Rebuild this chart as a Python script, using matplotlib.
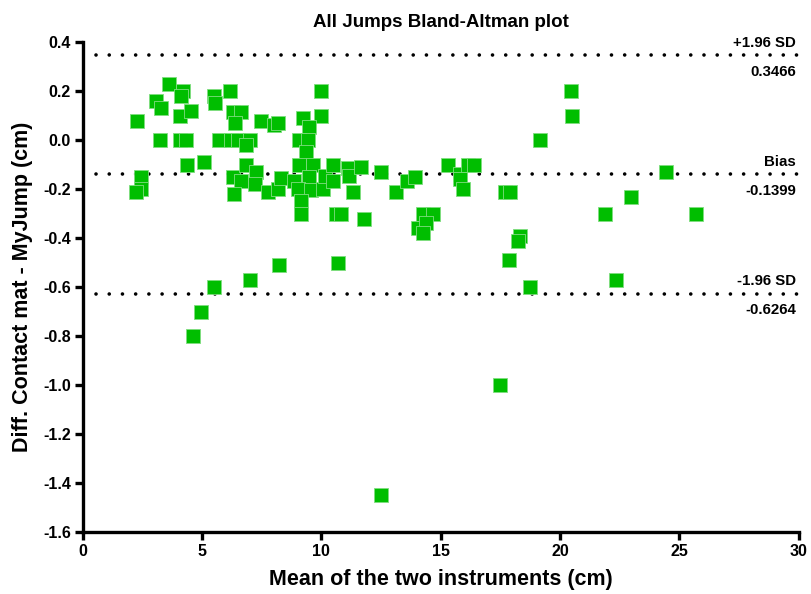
import matplotlib
matplotlib.use("Agg")
import matplotlib.pyplot as plt
from matplotlib.ticker import FuncFormatter, MultipleLocator

plt.rcParams['font.family'] = ['Liberation Sans', 'DejaVu Sans']

# Mean of the two instruments (cm)
mean_vals = [
    3.61, 4.20, 4.13, 3.05, 3.26, 2.29, 4.06, 4.55, 5.52, 5.56,
    6.16, 6.29, 6.64, 6.40, 7.48, 8.00, 8.20, 9.22, 9.99, 9.50, 9.97,
    3.22, 4.06, 4.34, 5.73, 6.22, 6.50, 6.99, 9.08, 9.43, 6.85, 9.36,
    4.38, 5.08, 2.43, 2.43, 2.25,
    6.29, 6.64, 6.85, 7.27, 7.20, 6.32, 7.75, 8.17, 8.31, 8.87,
    9.08, 9.64, 9.50, 9.00, 9.57, 10.06, 10.13, 10.47, 10.47,
    11.10, 11.17, 11.34, 9.15, 9.15, 10.60, 10.80,
    11.66, 12.50, 13.13, 13.60, 13.90, 15.30, 15.80, 15.80, 16.12, 16.40, 15.94,
    11.80, 14.24, 14.66, 14.03, 14.38, 14.24,
    10.68, 17.70, 17.90, 19.15, 18.33, 18.25, 17.87, 18.73,
    20.45, 20.49, 24.42, 22.96, 21.88, 25.68, 22.33,
    17.49, 12.48, 8.24, 6.99, 5.48, 4.97, 4.60,
]
# Difference Contact mat - MyJump (cm)
diff_vals = [
    0.23, 0.20, 0.18, 0.16, 0.13, 0.08, 0.10, 0.12, 0.18, 0.15,
    0.20, 0.115, 0.115, 0.07, 0.08, 0.06, 0.07, 0.09, 0.10, 0.055, 0.20,
    0.0, 0.0, 0.0, 0.0, 0.0, 0.0, 0.0, 0.0, 0.0, -0.02, -0.05,
    -0.10, -0.09, -0.15, -0.20, -0.21,
    -0.15, -0.165, -0.10, -0.13, -0.18, -0.22, -0.21, -0.20, -0.155, -0.165,
    -0.10, -0.10, -0.15, -0.20, -0.205, -0.20, -0.145, -0.10, -0.165,
    -0.115, -0.145, -0.21, -0.25, -0.30, -0.30, -0.30,
    -0.11, -0.13, -0.21, -0.165, -0.15, -0.10, -0.14, -0.16, -0.10, -0.10, -0.20,
    -0.32, -0.30, -0.30, -0.36, -0.34, -0.38,
    -0.50, -0.21, -0.21, 0.0, -0.39, -0.41, -0.49, -0.60,
    0.20, 0.10, -0.13, -0.23, -0.30, -0.30, -0.57,
    -1.00, -1.45, -0.51, -0.57, -0.60, -0.70, -0.80,
]

bias = -0.1399
upper_loa = 0.3466
lower_loa = -0.6264
line_values = [upper_loa, bias, lower_loa]
line_names = ["+1.96 SD", "Bias", "-1.96 SD"]
line_numbers = ["0.3466", "-0.1399", "-0.6264"]

fig = plt.figure(figsize=(8.11, 5.94), dpi=100)
ax = fig.add_axes([0.102, 0.104, 0.883, 0.825])

ax.scatter(mean_vals, diff_vals, marker='s', s=88, color='#00BE00',
           edgecolors='#80DD80', linewidths=0.6, zorder=3)

for val, name, num in zip(line_values, line_names, line_numbers):
    ax.plot([0.55, 30], [val, val], color='black', lw=2.6,
            linestyle=(0, (0.01, 3.65)), dash_capstyle='round', zorder=2)
    ax.annotate(name, xy=(30, val), xytext=(-2, 4), textcoords='offset points',
                ha='right', va='bottom', fontsize=10.8, fontweight='bold')
    ax.annotate(num, xy=(30, val), xytext=(-2, -7), textcoords='offset points',
                ha='right', va='top', fontsize=10.8, fontweight='bold')

ax.set_xlim(0, 30)
ax.set_ylim(-1.6, 0.4)
ax.xaxis.set_major_locator(MultipleLocator(5))
ax.yaxis.set_major_locator(MultipleLocator(0.2))
ax.yaxis.set_major_formatter(FuncFormatter(lambda v, p: f"{v:.1f}".replace("\u2212", "-")))

for s in ['top', 'right']:
    ax.spines[s].set_visible(False)
for s in ['left', 'bottom']:
    ax.spines[s].set_linewidth(2.4)
ax.tick_params(axis='both', direction='out', length=5.5, width=2.4,
               labelsize=11.5, pad=3)
for lab in ax.get_xticklabels() + ax.get_yticklabels():
    lab.set_fontweight('bold')

ax.set_xlabel("Mean of the two instruments (cm)", fontsize=15.5,
              fontweight='bold', labelpad=7)
ax.set_ylabel("Diff. Contact mat - MyJump (cm)", fontsize=15.5,
              fontweight='bold', labelpad=7)
ax.set_title("All Jumps Bland-Altman plot", fontsize=13.5, fontweight='bold', pad=11)

fig.savefig("out.png", dpi=100)
